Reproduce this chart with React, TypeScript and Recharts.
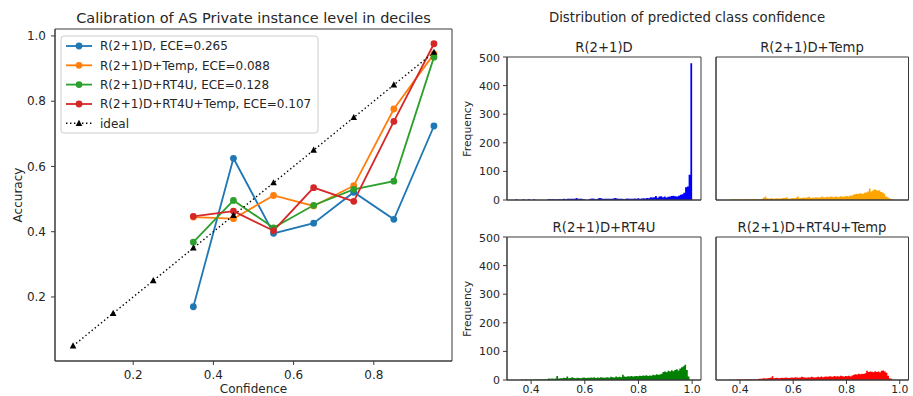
import React from 'react';
import { LineChart, Line, XAxis, YAxis, ReferenceArea, AreaChart, Area } from 'recharts';

// ---------- Calibration (left) ----------
const decileConf = [0.35, 0.45, 0.55, 0.65, 0.75, 0.85, 0.95];
const idealConf = [0.05, 0.15, 0.25, 0.35, 0.45, 0.55, 0.65, 0.75, 0.85, 0.95];
const idealAcc = [0.05, 0.15, 0.25, 0.35, 0.45, 0.55, 0.65, 0.75, 0.85, 0.95];
const accBase = [0.17, 0.625, 0.395, 0.426, 0.521, 0.438, 0.724];
const accTemp = [0.445, 0.44, 0.511, 0.479, 0.541, 0.776, 0.945];
const accRT4U = [0.368, 0.496, 0.412, 0.481, 0.53, 0.555, 0.935];
const accRT4UTemp = [0.447, 0.463, 0.403, 0.535, 0.493, 0.738, 0.976];
const seriesNames = ['R(2+1)D', 'R(2+1)D+Temp', 'R(2+1)D+RT4U', 'R(2+1)D+RT4U+Temp'];
const eceValues = ['0.265', '0.088', '0.128', '0.107'];
const lineColors = ['#1f77b4', '#ff7f0e', '#2ca02c', '#d62728'];
const calXTicks = [0.2, 0.4, 0.6, 0.8];
const calYTicks = [0.2, 0.4, 0.6, 0.8, 1.0];

// ---------- Histograms (right), 100 bins each ----------
const histXTicks = [0.4, 0.6, 0.8, 1.0];
const histYTicks = [0, 100, 200, 300, 400, 500];
const histColors = ['blue', 'orange', 'green', 'red'];
const binRanges = [
  [0.342, 1.0],
  [0.364, 0.976],
  [0.362, 0.99],
  [0.36, 0.972],
];
const countsBase = [
  3, 0, 0, 0, 3, 0, 0, 3, 0, 0,
  3, 0, 0, 0, 0, 0, 0, 0, 3, 3,
  3, 3, 2, 3, 3, 3, 3, 4, 3, 4,
  4, 4, 4, 4, 7, 4, 4, 4, 3, 2,
  0, 2, 4, 5, 4, 3, 4, 7, 6, 4,
  4, 4, 4, 4, 4, 5, 7, 5, 4, 4,
  4, 3, 4, 5, 4, 4, 4, 5, 4, 6,
  4, 5, 6, 5, 7, 6, 10, 9, 10, 14,
  8, 12, 13, 10, 12, 9, 11, 12, 14, 15,
  13, 12, 15, 18, 20, 25, 45, 47, 88, 478,
];
const countsTemp = [
  2, 2, 2, 2, 2, 2, 2, 2, 3, 2,
  2, 3, 3, 3, 2, 3, 3, 3, 3, 4,
  8, 12, 6, 5, 5, 6, 4, 5, 6, 5,
  5, 6, 7, 7, 10, 5, 4, 6, 7, 6,
  9, 12, 6, 7, 8, 9, 8, 10, 11, 7,
  9, 8, 10, 9, 8, 10, 12, 9, 10, 11,
  10, 12, 11, 10, 12, 11, 10, 13, 12, 11,
  13, 14, 12, 16, 15, 18, 20, 22, 21, 24,
  23, 22, 25, 26, 30, 40, 30, 33, 38, 35,
  32, 34, 28, 26, 22, 12, 10, 6, 4, 3,
];
const countsRT4U = [
  2, 0, 2, 2, 0, 2, 0, 2, 2, 2,
  2, 2, 3, 2, 3, 3, 5, 4, 5, 4,
  5, 14, 5, 6, 6, 8, 7, 12, 6, 7,
  10, 7, 6, 8, 7, 6, 8, 9, 7, 8,
  8, 9, 8, 10, 7, 9, 8, 10, 9, 8,
  9, 10, 8, 11, 10, 9, 12, 10, 11, 10,
  18, 12, 11, 13, 12, 14, 12, 13, 14, 13,
  15, 14, 16, 15, 17, 14, 16, 15, 18, 17,
  20, 18, 19, 22, 28, 30, 27, 32, 30, 34,
  31, 35, 38, 33, 40, 45, 48, 53, 35, 12,
];
const countsRT4UTemp = [
  2, 0, 2, 0, 2, 2, 2, 2, 2, 2,
  3, 2, 3, 3, 2, 3, 3, 3, 4, 4,
  5, 6, 5, 6, 7, 8, 13, 6, 7, 8,
  6, 7, 8, 7, 9, 8, 7, 8, 9, 8,
  10, 9, 8, 9, 11, 10, 9, 8, 10, 9,
  11, 10, 9, 10, 11, 10, 12, 10, 11, 12,
  11, 13, 12, 11, 14, 12, 13, 12, 15, 13,
  12, 14, 13, 15, 12, 16, 18, 20, 19, 22,
  20, 22, 21, 24, 32, 28, 30, 29, 27, 31,
  28, 30, 27, 32, 33, 30, 25, 15, 6, 4,
];
const histCounts = [countsBase, countsTemp, countsRT4U, countsRT4UTemp];

const FONT = 'DejaVu Sans';
const TXT = '#262626';
const AX = '#3a3a3a';

const toPoints = (xs: number[], ys: number[]) => xs.map((x, i) => ({ x, y: ys[i] }));

const Triangle = (props: any) => {
  const { cx, cy } = props;
  if (cx == null || cy == null) return null;
  return <polygon points={`${cx},${cy - 3.6} ${cx - 3.3},${cy + 2.6} ${cx + 3.3},${cy + 2.6}`} fill="#000" />;
};

const Calibration = () => {
  const series = [accBase, accTemp, accRT4U, accRT4UTemp];
  return (
    <div style={{ position: 'absolute', left: 0, top: 0 }}>
      <LineChart width={460} height={396} margin={{ top: 29, right: 8, left: 0, bottom: 0 }}>
        <XAxis
          dataKey="x"
          type="number"
          domain={[0.005, 0.995]}
          allowDataOverflow
          ticks={calXTicks}
          tickFormatter={(v: number) => v.toFixed(1)}
          height={35}
          tickSize={4}
          tickMargin={5}
          stroke={AX}
          tick={{ fill: TXT, fontSize: 12, fontFamily: FONT }}
        />
        <YAxis
          type="number"
          domain={[0.00375, 1.02125]}
          allowDataOverflow
          ticks={calYTicks}
          tickFormatter={(v: number) => v.toFixed(1)}
          width={55}
          tickSize={4}
          tickMargin={5}
          stroke={AX}
          tick={{ fill: TXT, fontSize: 12, fontFamily: FONT }}
        />
        <ReferenceArea x1={0.005} x2={0.995} y1={0.00375} y2={1.02125} fill="none" stroke={AX} ifOverflow="visible" />
        {series.map((s, k) => (
          <Line
            key={k}
            data={toPoints(decileConf, s)}
            dataKey="y"
            stroke={lineColors[k]}
            strokeWidth={1.8}
            dot={{ r: 3.4, fill: lineColors[k], stroke: 'none' }}
            activeDot={false}
            isAnimationActive={false}
          />
        ))}
        <Line
          data={toPoints(idealConf, idealAcc)}
          dataKey="y"
          stroke="#000"
          strokeWidth={1.4}
          strokeDasharray="1.4 2.6"
          dot={<Triangle />}
          activeDot={false}
          isAnimationActive={false}
        />
      </LineChart>
    </div>
  );
};

type HistProps = {
  idx: number;
  plotLeft: number;
  plotTop: number;
  plotW: number;
  plotH: number;
  showY: boolean;
  showX: boolean;
};

const Hist = ({ idx, plotLeft, plotTop, plotW, plotH, showY, showX }: HistProps) => {
  const counts = histCounts[idx];
  const [start, end] = binRanges[idx];
  const n = counts.length;
  const w = (end - start) / n;
  const data = counts.map((c, i) => ({ x: start + i * w, y: c })).concat([{ x: end, y: counts[n - 1] }]);
  const yw = 50;
  const mt = 5;
  const mr = 5;
  const xh = 20;
  return (
    <div style={{ position: 'absolute', left: plotLeft - yw, top: plotTop - mt }}>
      <AreaChart width={plotW + yw + mr} height={plotH + mt + xh} data={data} margin={{ top: mt, right: mr, left: 0, bottom: 0 }}>
        <XAxis
          dataKey="x"
          type="number"
          domain={[0.31, 1.033]}
          allowDataOverflow
          ticks={histXTicks}
          tickFormatter={(v: number) => v.toFixed(1)}
          height={xh}
          tickSize={4}
          tickMargin={1}
          stroke={AX}
          tick={showX ? { fill: TXT, fontSize: 10.8, fontFamily: FONT } : false}
        />
        <YAxis
          type="number"
          domain={[0, 500]}
          allowDataOverflow
          ticks={histYTicks}
          width={yw}
          tickSize={4}
          tickMargin={3}
          stroke={AX}
          tick={showY ? { fill: TXT, fontSize: 11, fontFamily: FONT } : false}
        />
        <Area
          type="stepAfter"
          dataKey="y"
          stroke="none"
          fill={histColors[idx]}
          fillOpacity={1}
          dot={false}
          activeDot={false}
          isAnimationActive={false}
        />
        <ReferenceArea x1={0.31} x2={1.033} y1={0} y2={500} fill="none" stroke={AX} ifOverflow="visible" />
      </AreaChart>
    </div>
  );
};

const LegendBox = () => {
  const x0 = 61;
  const y0 = 36;
  const rows = [46, 65.3, 84.6, 104, 123.3];
  return (
    <g>
      <rect x={x0} y={y0} width={257} height={97} rx={3} fill="#fff" fillOpacity={0.8} stroke="#cccccc" />
      {seriesNames.map((nm, k) => (
        <g key={k}>
          <line x1={66} x2={92} y1={rows[k]} y2={rows[k]} stroke={lineColors[k]} strokeWidth={1.8} />
          <circle cx={79} cy={rows[k]} r={3.4} fill={lineColors[k]} />
          <text x={100} y={rows[k] + 4.4} fontSize={12} fontFamily={FONT} fill={TXT}>
            {`${nm}, ECE=${eceValues[k]}`}
          </text>
        </g>
      ))}
      <line x1={66} x2={92} y1={rows[4]} y2={rows[4]} stroke="#000" strokeWidth={1.4} strokeDasharray="1.4 2.6" />
      <polygon points={`79,${rows[4] - 3.6} 75.7,${rows[4] + 2.6} 82.3,${rows[4] + 2.6}`} fill="#000" />
      <text x={100} y={rows[4] + 4.4} fontSize={12} fontFamily={FONT} fill={TXT}>ideal</text>
    </g>
  );
};

export default function App() {
  const pl = [507, 715.8];
  const pw = [194, 192.5];
  const pt = [57.3, 237.3];
  const ph = 143;
  return (
    <div style={{ position: 'absolute', left: 0, top: 0, width: 913, height: 396, background: '#fff', overflow: 'hidden' }}>
      <Calibration />
      <Hist idx={0} plotLeft={pl[0]} plotTop={pt[0]} plotW={pw[0]} plotH={ph} showY={true} showX={false} />
      <Hist idx={1} plotLeft={pl[1]} plotTop={pt[0]} plotW={pw[1]} plotH={ph} showY={false} showX={false} />
      <Hist idx={2} plotLeft={pl[0]} plotTop={pt[1]} plotW={pw[0]} plotH={ph} showY={true} showX={true} />
      <Hist idx={3} plotLeft={pl[1]} plotTop={pt[1]} plotW={pw[1]} plotH={ph} showY={false} showX={true} />
      <svg width={913} height={396} style={{ position: 'absolute', left: 0, top: 0, pointerEvents: 'none' }}>
        <text x={253.5} y={23.3} textAnchor="middle" fontSize={14.5} fontFamily={FONT} fill={TXT}>
          Calibration of AS Private instance level in deciles
        </text>
        <text x={253.5} y={393} textAnchor="middle" fontSize={12} fontFamily={FONT} fill={TXT}>Confidence</text>
        <text x={0} y={0} transform="translate(21.5,195) rotate(-90)" textAnchor="middle" fontSize={12} fontFamily={FONT} fill={TXT}>
          Accuracy
        </text>
        <LegendBox />
        <text x={687} y={22.2} textAnchor="middle" fontSize={13.3} fontFamily={FONT} fill={TXT}>
          Distribution of predicted class confidence
        </text>
        <text x={604} y={51.8} textAnchor="middle" fontSize={13.2} fontFamily={FONT} fill={TXT}>{seriesNames[0]}</text>
        <text x={812} y={51.8} textAnchor="middle" fontSize={13.2} fontFamily={FONT} fill={TXT}>{seriesNames[1]}</text>
        <text x={604} y={231.8} textAnchor="middle" fontSize={13.2} fontFamily={FONT} fill={TXT}>{seriesNames[2]}</text>
        <text x={812} y={231.8} textAnchor="middle" fontSize={13.2} fontFamily={FONT} fill={TXT}>{seriesNames[3]}</text>
        <text x={0} y={0} transform="translate(471,128.8) rotate(-90)" textAnchor="middle" fontSize={10.8} fontFamily={FONT} fill={TXT}>
          Frequency
        </text>
        <text x={0} y={0} transform="translate(471,308.8) rotate(-90)" textAnchor="middle" fontSize={10.8} fontFamily={FONT} fill={TXT}>
          Frequency
        </text>
      </svg>
    </div>
  );
}
